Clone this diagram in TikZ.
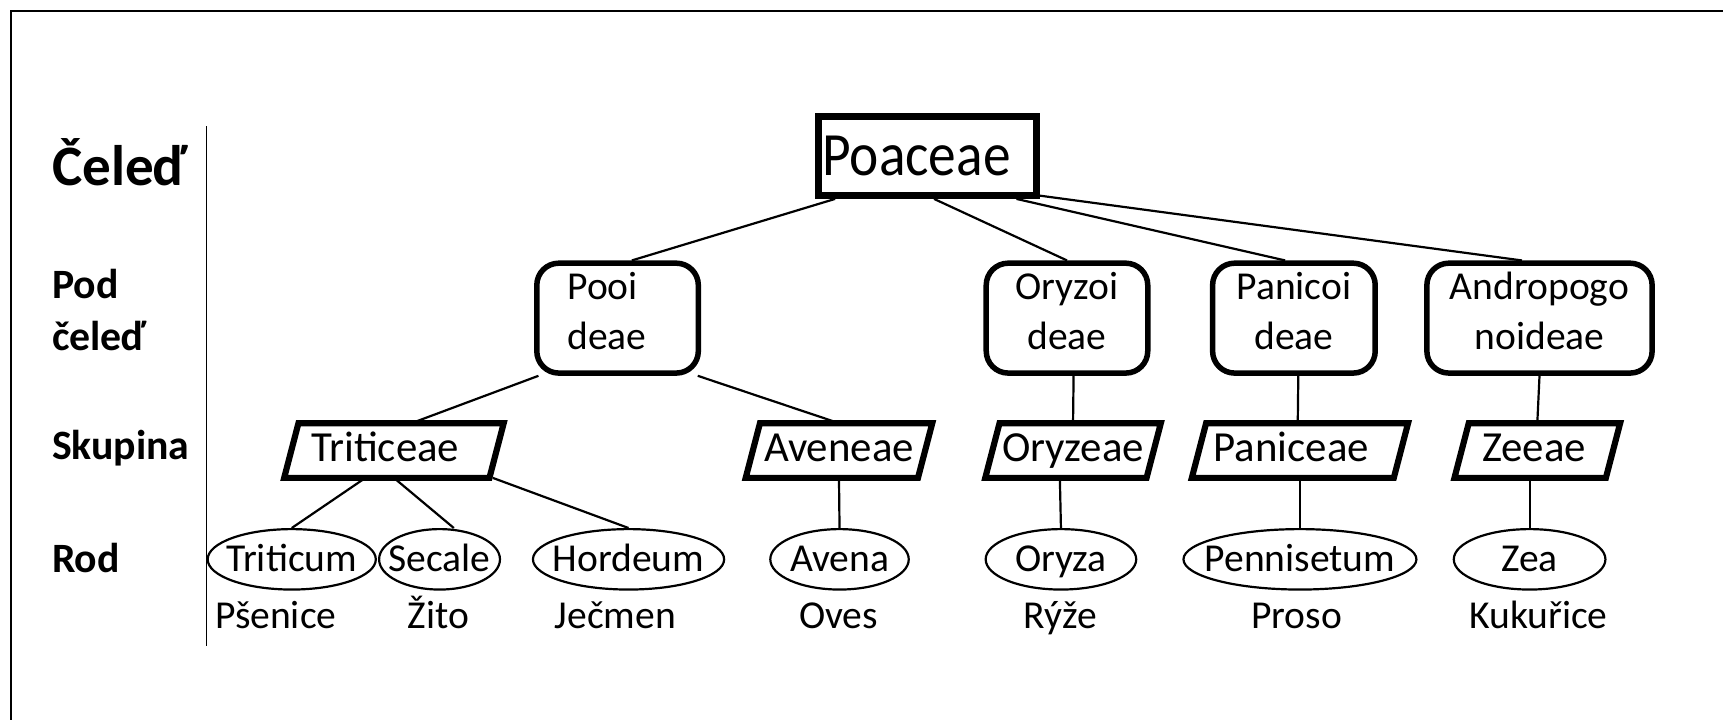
\documentclass[tikz,border=0pt]{standalone}
\usepackage{fontspec}
\setmainfont{Carlito}
\usetikzlibrary{shapes.geometric}
\begin{document}
\begin{tikzpicture}[x=0.5pt,y=-0.5pt,
  lab/.style={font=\bfseries\fontsize{19}{24}\selectfont, anchor=west, inner sep=0pt, align=left},
  famil/.style={draw, line width=3pt, inner sep=0pt, minimum width=99pt, minimum height=36pt},
  famtext/.style={inner sep=0pt, anchor=base, font=\fontsize{28}{30}\selectfont},
  subf/.style={draw, line width=2.5pt, rounded corners=10pt, inner sep=0pt, minimum height=50pt},
  subtext/.style={inner sep=0pt, font=\fontsize{18}{23}\selectfont, align=center},
  grp/.style={inner sep=0pt, minimum height=24.5pt, text height=14pt, text depth=4pt, font=\fontsize{19.5}{22}\selectfont},
  pgline/.style={line width=2.8pt, line join=miter},
  gen/.style={draw, ellipse, line width=1pt, inner sep=0pt, minimum height=27.5pt, text height=13pt, text depth=2pt, font=\fontsize{18}{22}\selectfont},
  cname/.style={inner sep=0pt, anchor=base, font=\fontsize{18}{22}\selectfont},
  conn/.style={line width=1pt}]
\useasboundingbox (0,0) rectangle (1568,655);
% frame
\draw[line width=1pt] (10,655) -- (10,10) -- (1568,10);
% left axis labels
\node[lab, font=\bfseries\fontsize{26}{30}\selectfont] (lc) at (47,148) {Čeleď};
\node[lab] (lp) at (47,282) {Pod\\čeleď};
\node[lab] (ls) at (47,408) {Skupina};
\node[lab] (lr) at (47,508) {Rod};
\coordinate (ax1) at (188,115);
\coordinate (ax2) at (188,588);
\draw[line width=0.8pt] (ax1) -- (ax2);
% family
\node[famil] (P) at (844,142) {};
\node[famtext] (Pt) at (834,160) {\scalebox{0.9}[1]{Poaceae}};
% subfamilies
\node[subf, minimum width=73.5pt] (pooi) at (562,289.5) {};
\node[subf, minimum width=73.5pt] (ory) at (971,289.5) {};
\node[subf, minimum width=74pt] (pan) at (1177.5,289.5) {};
\node[subf, minimum width=102.5pt] (and) at (1401,289.5) {};
\node[subtext, align=left, anchor=west] (pooiT) at (516,283) {Pooi\\deae};
\node[subtext] (oryT) at (971,283) {Oryzoi\\deae};
\node[subtext] (panT) at (1177.5,283) {Panicoi\\deae};
\node[subtext] (andT) at (1401,283) {Andropogo\\noideae};
% groups (parallelograms)
\node[grp, minimum width=93pt] (tri) at (358.5,410) {Triticeae\hspace*{8pt}};
\node[grp, minimum width=78pt] (ave) at (763.5,410) {Aveneae};
\node[grp, minimum width=73pt] (oryg) at (976.5,410) {Oryzeae};
\node[grp, minimum width=91.5pt] (pang) at (1183,410) {Paniceae\hspace*{8pt}};
\node[grp, minimum width=68.5pt] (zee) at (1399,410) {Zeeae\hspace*{3pt}};
\foreach \n in {tri,ave,oryg,pang,zee}
  \draw[pgline] ([xshift=3.25pt]\n.north west) -- ([xshift=3.25pt]\n.north east) -- ([xshift=-3.25pt]\n.south east) -- ([xshift=-3.25pt]\n.south west) -- cycle;
% genera
\node[gen, minimum width=76.5pt] (triticum) at (265.5,509) {\makebox[0pt]{Triticum}};
\node[gen, minimum width=55pt] (secale) at (400,509) {\makebox[0pt]{Secale}};
\node[gen, minimum width=87pt] (hordeum) at (572,509) {\makebox[0pt]{Hordeum}};
\node[gen, minimum width=63pt] (avena) at (764,509) {\makebox[0pt]{Avena}};
\node[gen, minimum width=68.5pt] (oryza) at (965.5,509) {\makebox[0pt]{Oryza}};
\node[gen, minimum width=106pt] (penn) at (1183,509) {\makebox[0pt]{Pennisetum}};
\node[gen, minimum width=69pt] (zea) at (1392,509) {\makebox[0pt]{Zea}};
% common names
\node[cname] (n1) at (251,572) {Pšenice};
\node[cname] (n2) at (399,572) {Žito};
\node[cname] (n3) at (560,572) {Ječmen};
\node[cname] (n4) at (763,572) {Oves};
\node[cname] (n5) at (965,572) {Rýže};
\node[cname] (n6) at (1180,572) {Proso};
\node[cname] (n7) at (1400,572) {Kukuřice};
% connectors
\draw[conn] ([xshift=-42pt]P.south) -- ([xshift=6.5pt]pooi.north);
\draw[conn] ([xshift=3pt]P.south) -- (ory.north);
\draw[conn] ([xshift=40.5pt]P.south) -- ([xshift=-4pt]pan.north);
\draw[conn] ([yshift=1.5pt]P.south east) -- ([xshift=-8pt]and.north);
\draw[conn] ([xshift=-36pt]pooi.south) -- ([xshift=8pt]tri.north);
\draw[conn] ([xshift=36.5pt]pooi.south) -- (ave.north);
\draw[conn] ([xshift=3pt]ory.south) -- (oryg.north);
\draw[conn] ([xshift=2pt]pan.south) -- ([xshift=-1pt]pang.north);
\draw[conn] (and.south) -- (zee.north);
\draw[conn] ([xshift=-13pt]tri.south) -- (triticum.north);
\draw[conn] (tri.south) -- ([xshift=6.5pt]secale.north);
\draw[conn] ([xshift=45pt]tri.south) -- (hordeum.north);
\draw[conn] (ave.south) -- (avena.north);
\draw[conn] ([xshift=-6pt]oryg.south) -- (oryza.north);
\draw[conn] (pang.south) -- (penn.north);
\draw[conn] ([xshift=-3.5pt]zee.south) -- (zea.north);
\end{tikzpicture}
\end{document}
